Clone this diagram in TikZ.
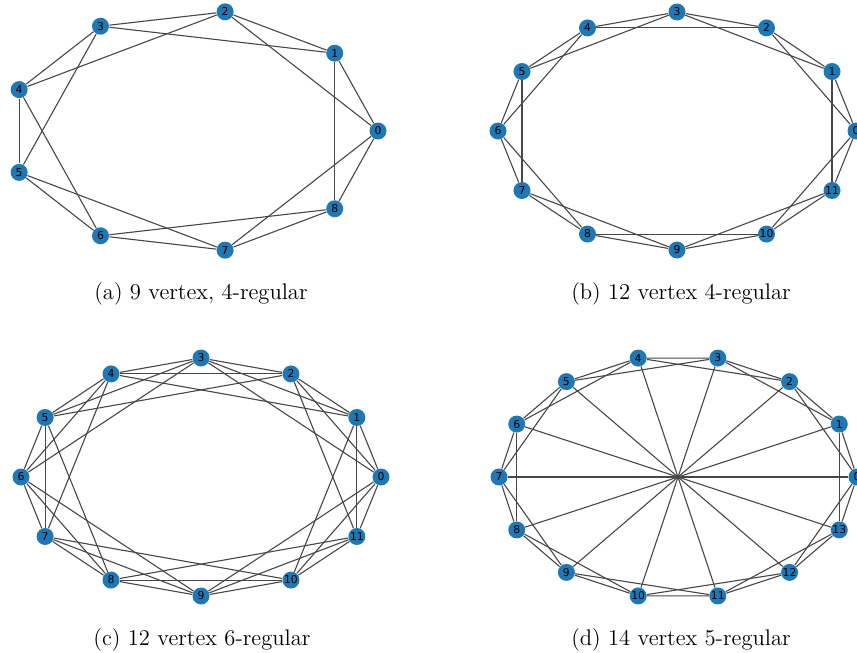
\documentclass[tikz,border=0pt]{standalone}
\usepackage{fontspec}
\usepackage{xcolor}
\usepackage{tikz}
\newfontfamily\vertexfont{DejaVu Sans}
\definecolor{nodeblue}{HTML}{1F77B4}
\tikzstyle{vertex} = [circle, fill=nodeblue, inner sep=0pt, minimum size=8.5pt,
    font=\vertexfont\fontsize{5.4}{6}\selectfont]
\tikzstyle{edge} = [draw, black!72, line width=0.55pt]
\tikzstyle{caption} = [font=\fontsize{11.3}{13}\selectfont]

\begin{document}
\begin{tikzpicture}[x=0.5pt, y=-0.5pt]
    \useasboundingbox (0,0) rectangle (857,653);
    % Nodes
    \foreach \i in {0,...,8}
        \node[vertex] (a\i) at ({193+185*cos(40*\i)}, {131-121*sin(40*\i)}) {\i};
    \foreach \i in {0,...,11}
        \node[vertex] (b\i) at ({677+179*cos(30*\i)}, {131-119*sin(30*\i)}) {\i};
    \foreach \i in {0,...,11}
        \node[vertex] (c\i) at ({201+180*cos(30*\i)}, {477-119*sin(30*\i)}) {\i};
    \foreach \i in {0,...,13}
        \node[vertex] (d\i) at ({678+179*cos(360*\i/14)}, {477-122*sin(360*\i/14)}) {\i};

    % Edges
    \foreach \i in {0,...,8} \foreach \k in {1,2} {
        \pgfmathtruncatemacro{\j}{mod(\i+\k,9)}
        \path[edge] (a\i) -- (a\j);
    }
    \foreach \i in {0,...,11} \foreach \k in {1,2} {
        \pgfmathtruncatemacro{\j}{mod(\i+\k,12)}
        \path[edge] (b\i) -- (b\j);
    }
    \foreach \i in {0,...,11} \foreach \k in {1,2,3} {
        \pgfmathtruncatemacro{\j}{mod(\i+\k,12)}
        \path[edge] (c\i) -- (c\j);
    }
    \foreach \i in {0,...,13} \foreach \k in {1,2} {
        \pgfmathtruncatemacro{\j}{mod(\i+\k,14)}
        \path[edge] (d\i) -- (d\j);
    }
    \foreach \i in {0,...,6} {
        \pgfmathtruncatemacro{\j}{\i+7}
        \path[edge] (d\i) -- (d\j);
    }

    % Captions
    \node[caption] (capa) at (201,294) {(a) 9 vertex, 4-regular};
    \node[caption] (capb) at (681,294) {(b) 12 vertex 4-regular};
    \node[caption] (capc) at (202,640) {(c) 12 vertex 6-regular};
    \node[caption] (capd) at (681,640) {(d) 14 vertex 5-regular};
\end{tikzpicture}
\end{document}
